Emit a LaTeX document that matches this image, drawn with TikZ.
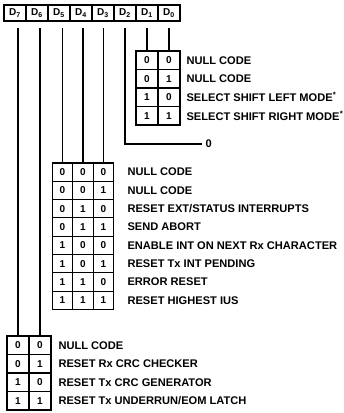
\documentclass[tikz,border=0pt]{standalone}
\usepackage{fontspec}
\setmainfont{Liberation Sans}
\usetikzlibrary{positioning}
\tikzset{
    bit/.style={draw=black, inner sep=0pt, minimum width=22pt, minimum height=18.5pt,
        font=\fontsize{10}{10}\selectfont\bfseries},
    regbit/.style={bit, minimum height=16pt},
    narrowbit/.style={bit, minimum width=20.5pt, minimum height=18.3pt},
    code/.style={anchor=west, inner sep=0pt, font=\fontsize{11.1}{11.1}\selectfont\bfseries},
    wire/.style={draw=black, line width=1.2pt},
}
\newcommand{\modestar}{\textsuperscript{\kern0.3pt*}}

\begin{document}
\begin{tikzpicture}[x=1pt,y=-1pt,line width=1.1pt]
	\useasboundingbox (0,0) rectangle (344,413);
%
	\foreach \i in {0,...,7}
		\node[regbit] (r\i) at ({15+22*(7-\i)},13) {D\textsubscript{\i}};
	\coordinate (top) at (0,28);
%
	\foreach \a/\b/\txt [count=\k from 0] in {0/0/NULL CODE, 0/1/NULL CODE,
		1/0/SELECT SHIFT LEFT MODE\modestar, 1/1/SELECT SHIFT RIGHT MODE\modestar}
	{
		\node[bit] (p-\k-1) at (147,{60.25+18.5*\k}) {\a};
		\node[bit] (p-\k-0) at (169,{60.25+18.5*\k}) {\b};
		\node[code] (pt-\k) at (186,{60.25+18.5*\k}) {\txt};
	}
	\draw[wire] (r1.south |- top) -- (p-0-1.north);
	\draw[wire] (r0.south |- top) -- (p-0-0.north);
%
	\node[code] (zero) at (205,144) {0};
	\draw[wire] (r2.south |- top) |- ([xshift=-3pt]zero.west);
%
	\foreach \a/\b/\c/\txt [count=\k from 0] in {0/0/0/NULL CODE, 0/0/1/NULL CODE,
		0/1/0/{RESET EXT/STATUS INTERRUPTS}, 0/1/1/SEND ABORT,
		1/0/0/ENABLE INT ON NEXT Rx CHARACTER, 1/0/1/RESET Tx INT PENDING,
		1/1/0/ERROR RESET, 1/1/1/RESET HIGHEST IUS}
	{
		\node[narrowbit] (q-\k-5) at (62.5,{172.15+18.3*\k}) {\a};
		\node[narrowbit] (q-\k-4) at (83,{172.15+18.3*\k}) {\b};
		\node[narrowbit] (q-\k-3) at (103.5,{172.15+18.3*\k}) {\c};
		\node[code] (qt-\k) at (127,{172.15+18.3*\k}) {\txt};
	}
	\draw[wire] (q-0-5.north) -- (q-0-5.north |- top);
	\draw[wire] (q-0-4.north) -- (q-0-4.north |- top);
	\draw[wire] (q-0-3.north) -- (q-0-3.north |- top);
%
	\foreach \a/\b/\txt [count=\k from 0] in {0/0/NULL CODE, 0/1/RESET Rx CRC CHECKER,
		1/0/RESET Tx CRC GENERATOR, 1/1/{RESET Tx UNDERRUN/EOM LATCH}}
	{
		\node[bit] (s-\k-7) at (18,{345.25+18.5*\k}) {\a};
		\node[bit] (s-\k-6) at (40,{345.25+18.5*\k}) {\b};
		\node[code] (st-\k) at (58,{345.25+18.5*\k}) {\txt};
	}
	\draw[wire] (s-0-7.north) -- (s-0-7.north |- top);
	\draw[wire] (s-0-6.north) -- (s-0-6.north |- top);
\end{tikzpicture}
\end{document}
